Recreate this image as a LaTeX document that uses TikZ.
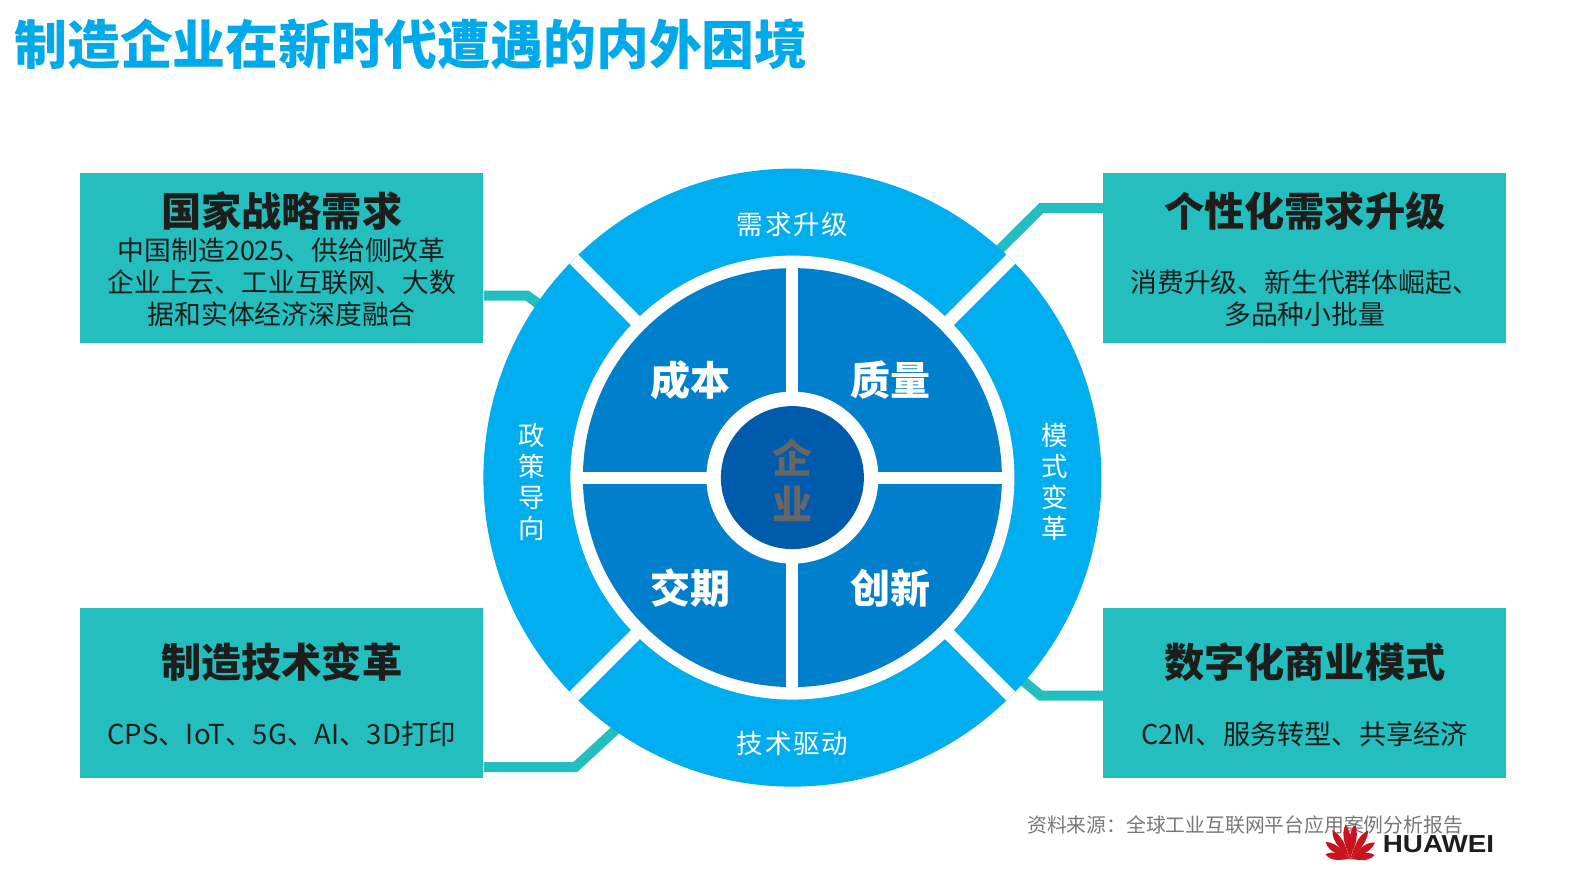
\documentclass[tikz,border=0pt]{standalone}
\usepackage{fontspec}
\usetikzlibrary{calc}
\setmainfont{Noto Sans CJK SC}
\newfontfamily\logofont{Liberation Sans}
\definecolor{ringblue}{HTML}{00AEEF}
\definecolor{quadblue}{HTML}{0080CC}
\definecolor{coreblue}{HTML}{005BAC}
\definecolor{teal}{HTML}{25BEBE}
\definecolor{inkdark}{HTML}{1D1D1B}
\definecolor{titleblue}{HTML}{00A9EA}
\definecolor{coregray}{HTML}{666666}
\definecolor{srcgray}{HTML}{777777}
\definecolor{petalred}{HTML}{C8141E}
\tikzset{
  box/.style={fill=teal,minimum width=403.3pt,minimum height=169.4pt,inner sep=0pt},
  link/.style={draw=teal,line width=10pt,line join=miter},
  head/.style={text=inkdark,font=\fontsize{40.2}{44}\selectfont\bfseries,inner sep=0pt},
  body/.style={text=inkdark,font=\fontsize{26.8}{30}\selectfont,inner sep=0pt},
  seg/.style={text=white,font=\fontsize{26.5}{31}\selectfont\addfontfeature{LetterSpace=6.5},inner sep=0pt,align=center},
  quad/.style={text=white,font=\fontsize{40}{44}\selectfont\bfseries,inner sep=0pt},
  gap/.style={draw=white,line width=12.5pt},
  petal/.style={fill=petalred,draw=none},
}
\begin{document}
\begin{tikzpicture}[x=1pt,y=-1pt]
\useasboundingbox (0,0) rectangle (1587,892);
% title
\node[anchor=west,inner sep=0pt,text=titleblue,font=\fontsize{52.9}{60}\selectfont\bfseries] (title) at (14,44) {制造企业在新时代遭遇的内外困境};
% boxes
\node[box] (bTL) at (281.7,258) {};
\node[box] (bTR) at (1304.7,258) {};
\node[box] (bBL) at (281.7,693) {};
\node[box] (bBR) at (1304.7,693) {};
% connector ends, hidden under the ring
\coordinate (eTL) at (548,311);
\coordinate (eTR) at (994,255);
\coordinate (eBL) at (622,724);
\coordinate (eBR) at (1015,674);
\draw[link] (bTL.east |- 0,295.5) -- (527,295.5) -- (eTL);
\draw[link] (bTR.west |- 0,208) -- (1041.4,208) -- (eTR);
\draw[link] (bBL.east |- 0,767) -- (575.3,767) -- (eBL);
\draw[link] (bBR.west |- 0,695.5) -- (1040.6,695.5) -- (eBR);
% wheel
\coordinate (c) at (792.4,477.6);
\fill[ringblue] (c) circle[radius=309];
\begin{scope}
  \clip (c) circle[radius=309];
  \draw[gap] ($(c)+(-320,-320)$) -- ($(c)+(320,320)$);
  \draw[gap] ($(c)+(-320,320)$) -- ($(c)+(320,-320)$);
\end{scope}
\fill[white] (c) circle[radius=222];
\fill[quadblue] (c) circle[radius=209.5];
\draw[gap,line width=12pt] ($(c)+(0,-215)$) -- ($(c)+(0,215)$);
\draw[gap,line width=12pt] ($(c)+(-215,0)$) -- ($(c)+(215,0)$);
\fill[white] (c) circle[radius=86];
\fill[coreblue] (c) circle[radius=71.5];
% ring labels
\node[seg] (sT) at (792.4,224) {需求升级};
\node[seg] (sB) at (792.4,743) {技术驱动};
\node[seg] (sL) at (532,482) {政\\策\\导\\向};
\node[seg] (sR) at (1055,482) {模\\式\\变\\革};
% quadrant labels
\node[quad] (q1) at (690.4,380) {成本};
\node[quad] (q2) at (890.4,380) {质量};
\node[quad] (q3) at (690.4,588) {交期};
\node[quad] (q4) at (890.4,588) {创新};
\node[quad,text=coregray,align=center,font=\fontsize{40}{46}\selectfont\bfseries] (core) at (792.4,480) {企\\业};
% box texts
\node[head] (hTL) at (281.7,211) {国家战略需求};
\node[body] (t1a) at (281.7,250) {中国制造2025、供给侧改革};
\node[body] (t1b) at (281.7,282) {企业上云、工业互联网、大数};
\node[body] (t1c) at (281.7,314) {据和实体经济深度融合};
\node[head] (hTR) at (1304.7,211) {个性化需求升级};
\node[body] (t2a) at (1304.7,282) {消费升级、新生代群体崛起、};
\node[body] (t2b) at (1304.7,314) {多品种小批量};
\node[head] (hBL) at (281.7,662) {制造技术变革};
\node[body,font=\fontsize{27.5}{30}\selectfont] (t3a) at (281.7,734) {CPS、IoT、5G、AI、3D打印};
\node[head] (hBR) at (1304.7,662) {数字化商业模式};
\node[body,font=\fontsize{27.2}{30}\selectfont] (t4a) at (1304.7,734) {C2M、服务转型、共享经济};
% source
\node[text=srcgray,font=\fontsize{19.8}{24}\selectfont,anchor=west,inner sep=0pt] (src) at (1027,825) {资料来源：全球工业互联网平台应用案例分析报告};
% logo
\begin{scope}[shift={(1350,859)}]
  \foreach \a/\l in {-80/25,-56/30,-32/34,-8/35,8/35,32/34,56/30,80/25}{
    \fill[petal,rotate=\a] (0,0) .. controls (1.5,-0.3*\l) and (7,-0.6*\l) .. (0.5,-\l) .. controls (-7,-0.7*\l) and (-1.5,-0.3*\l) .. (0,0);
  }
\end{scope}
\node[inner sep=0pt,text=inkdark,font=\logofont\fontsize{24.6}{28}\selectfont\bfseries,xscale=1.13] (hw) at (1438.5,844) {HUAWEI};
\end{tikzpicture}
\end{document}
